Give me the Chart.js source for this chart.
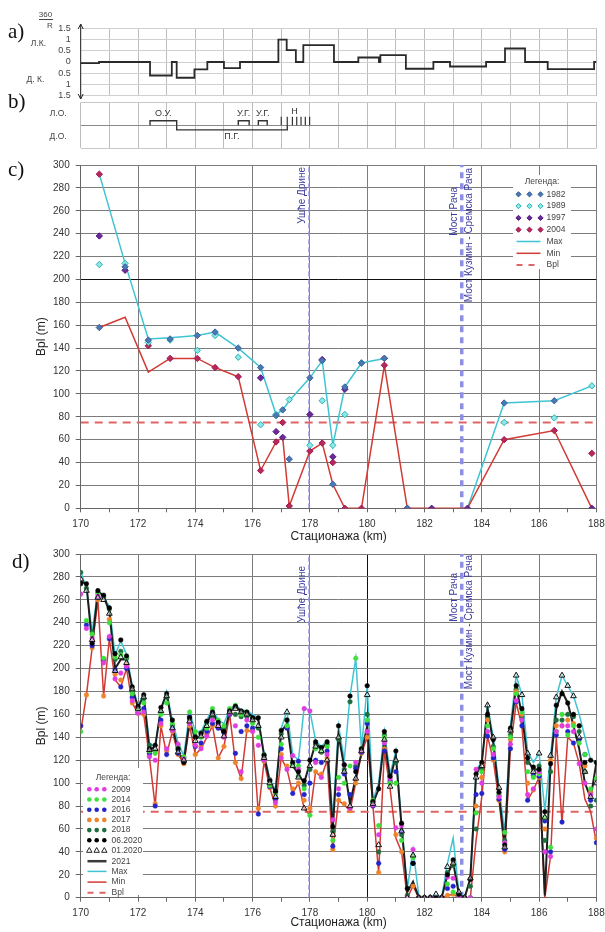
<!DOCTYPE html>
<html>
<head>
<meta charset="utf-8">
<script src="https://cdn.jsdelivr.net/npm/chart.js@4.4.1/dist/chart.umd.min.js"></script>
<style>
  html, body { margin: 0; padding: 0; background: #fff; }
  #wrap { position: relative; width: 605px; height: 932px; overflow: hidden; }
  canvas { position: absolute; left: 0; }
</style>
</head>
<body>
<div id="wrap">
  <canvas id="curv" width="605" height="100" style="top:0px"></canvas>
  <canvas id="banks" width="605" height="62" style="top:88px"></canvas>
  <canvas id="chartC" width="605" height="396" style="top:150px"></canvas>
  <canvas id="chartD" width="605" height="392" style="top:540px"></canvas>
</div>
<script>
// ---- a) кривина 360/R по стационажи (почетак деонице, вредност)
const curvKm  = [170.0, 170.64, 172.42, 173.18, 173.35, 173.97, 174.42, 175.0, 175.56, 176.9, 177.19, 177.51, 177.77, 178.84, 179.69, 180.41, 180.46, 181.35, 182.31, 182.89, 184.15, 184.81, 185.51, 186.3, 187.92, 188.0];
const curvVal = [-0.05, 0, -0.6, 0, -0.7, -0.33, 0, -0.27, 0, 1.0, 0.53, 0, 0.75, 0, 0.2, 0, 0.31, -0.3, 0, -0.2, 0, 0.6, 0, -0.32, 0, 0];

// ---- b) регулационе грађевине
const objName = ['О.У.', 'У.Г.', 'У.Г.', 'П.Г.'];
const objFrom = [172.42, 175.5, 176.2, 173.35];
const objTo   = [173.35, 175.88, 176.51, 177.21];
const objSide = [1, 1, 1, -1];           // 1 = лева обала, -1 = десна обала
const spurKm  = [177.0, 177.21, 177.39, 177.54, 177.69, 177.84, 177.99];
const spurName = 'Н';

// ---- c) ширина Bpl, мерења 1982-2004
const stC   = [170.65, 171.55, 172.36, 173.12, 174.07, 174.69, 175.5, 176.28, 176.82, 177.05, 177.28, 178.0, 178.43, 178.8, 179.22, 179.8, 180.6, 181.4, 182.25, 183.5, 184.78, 186.53, 187.84];
const maxC  = [292, 214, 148, 149, 151, 154, 140, 123, 82, 86, 94, 114, 129, 55, 106, 127, 131, null, null, 0, 92, 94, 107];
const minC  = [158, 167, 119, 131, 131, 123, 115, 33, 58, 62, 2, 50, 57, 21, 0, 0, 125, 0, 0, 0, 60, 68, 0];
const y1982 = [158, 211, 147, 148, 151, 154, 140, 123, 81, 86, 43, 114, 129, 21, 106, 127, 131, 0, null, null, 92, 94, null];
const y1989 = [213, 214, 145, 147, 138, 151, 132, 73, 82, null, 95, 55, 94, 55, 82, 127, null, null, null, null, 75, 79, 107];
const y1997 = [238, 208, null, null, null, null, null, 114, 67, 62, null, 82, 130, 45, 104, null, 131, null, 0, 0, null, null, 0];
const y2004 = [292, null, 142, 131, 131, 123, 115, 33, 58, 75, 2, 50, 57, 40, 0, 0, 125, 0, null, null, 60, 68, 48];

// ---- d) ширина Bpl, мерења 2009-2021
const stD = [170, 170.2, 170.4, 170.6, 170.8, 171, 171.2, 171.4, 171.6, 171.8,
  172, 172.2, 172.4, 172.6, 172.8, 173, 173.2, 173.4, 173.6, 173.8,
  174, 174.2, 174.4, 174.6, 174.8, 175, 175.2, 175.4, 175.6, 175.8,
  176, 176.2, 176.4, 176.6, 176.8, 177, 177.2, 177.4, 177.6, 177.8,
  178, 178.2, 178.4, 178.6, 178.8, 179, 179.2, 179.4, 179.6, 179.8,
  180, 180.2, 180.4, 180.6, 180.8, 181, 181.2, 181.4, 181.6, 181.8,
  182, 182.2, 182.4, 182.6, 182.8, 183, 183.2, 183.4, 183.6, 183.8,
  184, 184.2, 184.4, 184.6, 184.8, 185, 185.2, 185.4, 185.6, 185.8,
  186, 186.2, 186.4, 186.6, 186.8, 187, 187.2, 187.4, 187.6, 187.8, 188];
const maxD = [285, 270, 232, 268, 263, 254, 212, 224, 212, 185,
  168, 178, 135, 132, 165, 180, 155, 135, 124, 162,
  145, 145, 155, 165, 155, 152, 165, 168, 164, 163,
  160, 157, 126, 104, 94, 148, 163, 125, 120, 166,
  163, 137, 132, 137, 70, 150, 120, 176, 209, 130,
  185, 85, 100, 145, 108, 128, 65, 8, 42, 2,
  0, 0, 3, 0, 30, 52, 5, 0, 17, 112,
  118, 168, 140, 96, 57, 150, 194, 177, 128, 118,
  126, 76, 124, 175, 194, 185, 176, 160, 140, 120, 118];
const minD = [145, 177, 218, 260, 176, 226, 190, 184, 200, 170,
  161, 160, 122, 80, 150, 125, 145, 125, 117, 150,
  125, 130, 140, 150, 122, 132, 160, 118, 104, 146,
  145, 73, 119, 96, 80, 122, 112, 91, 100, 78,
  72, 110, 105, 120, 42, 85, 81, 76, 100, 126,
  140, 80, 22, 128, 95, 52, 40, 0, 10, 0,
  0, 0, 0, 0, 2, 3, 0, 0, 0, 50,
  88, 141, 120, 85, 40, 130, 170, 150, 85, 94,
  105, 0, 36, 140, 65, 140, 135, 117, 86, 75, 48];
const l2021 = [276, 274, 221, 268, 263, 250, 200, 208, 208, 183,
  166, 176, 129, 132, 165, 178, 150, 128, 119, 155,
  138, 142, 152, 162, 152, 142, 163, 167, 163, 162,
  158, 155, 124, 101, 92, 145, 152, 115, 108, 100,
  118, 135, 130, 135, 60, 142, 114, 82, 105, 126,
  150, 82, 95, 138, 103, 124, 62, 5, 14, 0,
  0, 0, 0, 0, 20, 31, 3, 0, 17, 107,
  118, 165, 135, 90, 45, 145, 184, 160, 120, 112,
  112, 2, 117, 165, 180, 170, 150, 130, 100, 87, 118];
const p0620 = [274, 274, 222, 268, 264, 253, 213, 225, 211, 184,
  167, 177, 130, 133, 166, 178, 155, 130, 118, 157,
  140, 143, 154, 162, 153, 145, 163, 167, 163, 162,
  157, 157, 124, 102, 93, 146, 155, 118, 110, 102,
  120, 136, 131, 136, 62, 150, 116, 176, 110, 130,
  185, 84, 95, 145, 106, 128, 65, 8, 30, 0,
  0, 0, 0, 0, 20, 33, 3, 0, 16, 108,
  118, 160, 138, 92, 46, 148, 185, 165, 122, 114,
  112, 75, 117, 168, 178, 170, 160, 150, 118, 120, 118];
const p0120 = [278, 268, 225, 262, 260, 248, 198, 210, 205, 182,
  165, 175, 129, 130, 163, 176, 148, 127, 120, 154,
  137, 141, 150, 160, 150, 141, 162, 165, 162, 160,
  155, 150, 122, 100, 88, 140, 162, 115, 105, 78,
  115, 132, 128, 120, 55, 140, 110, 80, 104, 128,
  177, 82, 46, 138, 97, 120, 58, 0, 37, 0,
  0, 0, 3, 0, 27, 30, 5, 0, 17, 105,
  115, 168, 140, 96, 44, 146, 194, 177, 126, 110,
  126, 70, 124, 175, 194, 185, 176, 140, 110, 88, 100];
const p2009 = [265, 235, 226, 263, 205, 228, 191, 196, 202, 172,
  161, 162, 123, 120, 152, 130, 146, 134, 121, 152,
  133, 130, 141, 155, 150, 140, 161, 150, 110, 155,
  145, 133, 120, 102, 83, 122, 112, 124, 112, 165,
  163, 118, 105, 125, 68, 95, 116, 78, 118, 128,
  145, 81, 55, 135, 104, 61, 63, 0, 42, 0,
  0, 0, 0, 0, 18, 17, 0, 0, 0, 112,
  100, 145, 125, 88, 48, 134, 172, 155, 90, 95,
  110, 40, 36, 145, 150, 150, 145, 117, 100, 90, 60];
const p2014 = [145, 242, 230, 265, 209, 240, 210, 212, 210, 178,
  163, 170, 128, 126, 160, 170, 152, 132, 123, 162,
  145, 140, 148, 165, 155, 150, 165, 168, 160, 162,
  152, 140, 122, 98, 90, 134, 150, 117, 115, 95,
  72, 130, 128, 132, 50, 105, 100, 115, 209, 130,
  155, 85, 63, 140, 100, 100, 50, 0, 35, 0,
  0, 0, 0, 0, 12, 5, 0, 0, 0, 74,
  110, 150, 130, 90, 57, 140, 178, 162, 110, 105,
  108, 70, 44, 145, 160, 142, 150, 135, 125, 95, 104];
const p2016 = [150, 238, 220, 262, 208, 226, 199, 184, 200, 175,
  162, 165, 126, 80, 155, 125, 147, 126, 119, 158,
  132, 135, 145, 152, 148, 144, 160, 126, 145, 150,
  148, 73, 121, 97, 86, 130, 148, 91, 119, 90,
  100, 120, 118, 128, 45, 90, 108, 90, 113, 127,
  152, 80, 30, 128, 102, 110, 58, 0, 30, 0,
  0, 0, 0, 0, 8, 10, 0, 0, 0, 90,
  91, 141, 122, 86, 42, 130, 171, 150, 85, 107,
  106, 67, 40, 142, 66, 145, 135, 138, 125, 85, 48];
const p2017 = [150, 177, 218, 260, 176, 243, 195, 190, 203, 170,
  161, 160, 124, 82, 150, 128, 145, 125, 117, 150,
  125, 132, 143, 150, 122, 132, 160, 118, 104, 146,
  146, 78, 119, 96, 80, 125, 115, 95, 100, 85,
  78, 110, 108, 122, 42, 85, 82, 76, 100, 126,
  140, 80, 22, 130, 101, 55, 40, 0, 10, 0,
  0, 0, 0, 0, 2, 3, 0, 0, 0, 80,
  105, 155, 120, 85, 40, 138, 180, 160, 100, 94,
  105, 60, 120, 150, 150, 155, 152, 150, 115, 92, 52];
const p2018 = [284, 270, 232, 266, 262, 252, 208, 215, 209, 180,
  166, 174, 133, 128, 162, 175, 150, 129, 122, 156,
  141, 144, 153, 158, 151, 148, 164, 160, 158, 158,
  156, 148, 125, 103, 92, 143, 155, 116, 106, 98,
  112, 134, 127, 134, 58, 138, 112, 171, 115, 129,
  160, 83, 40, 142, 100, 118, 55, 2, 36, 0,
  0, 0, 0, 0, 22, 28, 2, 0, 10, 60,
  112, 158, 132, 89, 50, 142, 182, 158, 118, 112,
  115, 50, 110, 155, 155, 160, 158, 145, 110, 80, 85];

const bpl = 75;
const mouthKm = 177.97;   // ушће Дрине
const bridgeKm = 183.3;   // мост Рача

// ---- стил
const SANS = '"Liberation Sans", Arial, sans-serif';
const SERIF = '"Liberation Serif", "Times New Roman", serif';
const AREA_LEFT = 80.7;
const PAD_RIGHT = 605 - 596.4;
const GRID = '#7c7c7c';
const TXT = '#333';
const CYAN = '#3fc4d4';
const RED = '#d23a34';
const LABEL_BLUE = '#3d3d9e';
Chart.defaults.font.family = SANS;

function noPad(s) { s.paddingLeft = 0; s.paddingRight = 0; s.paddingTop = 0; s.paddingBottom = 0; }

function pts(xs, ys) { return xs.map((x, i) => ({ x: x, y: ys[i] })); }

function vText(ctx, text, x, yTop) {
  ctx.save();
  ctx.translate(x, yTop);
  ctx.rotate(-Math.PI / 2);
  ctx.textAlign = 'right';
  ctx.textBaseline = 'middle';
  ctx.fillText(text, 0, 0);
  ctx.restore();
}

function diamond(ctx, x, y, r, fill, stroke) {
  ctx.beginPath();
  ctx.moveTo(x, y - r); ctx.lineTo(x + r, y); ctx.lineTo(x, y + r); ctx.lineTo(x - r, y);
  ctx.closePath();
  ctx.fillStyle = fill; ctx.fill();
  ctx.lineWidth = 1; ctx.strokeStyle = stroke; ctx.stroke();
}
function dot(ctx, x, y, r, fill) {
  ctx.beginPath(); ctx.arc(x, y, r, 0, Math.PI * 2); ctx.fillStyle = fill; ctx.fill();
}
function tri(ctx, x, y, r, stroke) {
  ctx.beginPath();
  ctx.moveTo(x, y - r); ctx.lineTo(x + r * 0.9, y + r * 0.6); ctx.lineTo(x - r * 0.9, y + r * 0.6);
  ctx.closePath();
  ctx.lineWidth = 1; ctx.strokeStyle = stroke; ctx.stroke();
}

function drawLegend(ctx, L) {
  ctx.save();
  ctx.fillStyle = '#fff';
  ctx.fillRect(L.box[0], L.box[1], L.box[2], L.box[3]);
  ctx.font = L.fs + 'px ' + SANS;
  ctx.textBaseline = 'middle';
  ctx.fillStyle = '#444';
  ctx.textAlign = 'center';
  ctx.fillText('Легенда:', L.box[0] + L.box[2] / 2, L.titleY);
  ctx.textAlign = 'left';
  L.rows.forEach((r, i) => {
    const y = L.y0 + i * L.dy + (r.shift || 0);
    if (r.mark) {
      L.markX.forEach(x => r.mark(ctx, x, y));
    } else {
      ctx.beginPath();
      ctx.setLineDash(r.dash || []);
      ctx.strokeStyle = r.color; ctx.lineWidth = r.width;
      ctx.moveTo(L.lineX[0], y); ctx.lineTo(L.lineX[1], y); ctx.stroke();
      ctx.setLineDash([]);
    }
    ctx.fillStyle = '#444';
    ctx.fillText(r.label, L.textX, y);
  });
  ctx.restore();
}

function kmAxis(height, labels, title, blackAt) {
  return {
    type: 'linear', min: 170, max: 188,
    ticks: {
      display: labels, stepSize: 1, autoSkip: false, maxRotation: 0, padding: 6,
      font: { size: 10 }, color: TXT,
      callback: v => (v % 2 === 0 ? String(v) : '')
    },
    grid: labels ? {
      color: c => (c.tick && c.tick.value % 2 !== 0) ? 'rgba(0,0,0,0)' : (c.tick && c.tick.value === blackAt ? '#111' : GRID),
      tickColor: '#666', tickLength: 4
    } : { color: '#bdbdbd', drawTicks: false },
    border: labels ? { color: '#666' } : { display: false },
    title: title ? { display: true, text: title, color: '#222', font: { size: 12 }, padding: { top: 0, bottom: 1.8 } } : { display: false },
    afterFit: s => { noPad(s); s.height = height; }
  };
}

function bplAxis(blackAt) {
  return {
    min: 0, max: 300,
    ticks: { stepSize: 20, autoSkip: false, padding: 6, font: { size: 10 }, color: TXT },
    grid: { color: c => (c.tick && c.tick.value === blackAt ? '#111' : GRID), tickColor: '#666', tickLength: 5 },
    border: { color: '#666' },
    title: { display: true, text: 'Bpl (m)', color: '#222', font: { size: 12 }, padding: { top: 34.5, bottom: 0 } },
    afterFit: s => { noPad(s); s.width = AREA_LEFT; }
  };
}

const base = {
  responsive: false, animation: false, devicePixelRatio: 1,
  plugins: { legend: { display: false }, tooltip: { enabled: false } }
};

// ================= a)
const curvDecor = {
  id: 'curvDecor',
  afterDraw(chart) {
    const ctx = chart.ctx, a = chart.chartArea;
    ctx.save();
    ctx.strokeStyle = '#222'; ctx.lineWidth = 1;
    ctx.beginPath(); ctx.moveTo(a.left, 24.5); ctx.lineTo(a.left, 98.5); ctx.stroke();
    ctx.beginPath(); ctx.moveTo(a.left - 2.5, 29); ctx.lineTo(a.left, 24); ctx.lineTo(a.left + 2.5, 29); ctx.stroke();
    ctx.beginPath(); ctx.moveTo(a.left - 2.5, 94); ctx.lineTo(a.left, 99); ctx.lineTo(a.left + 2.5, 94); ctx.stroke();
    ctx.fillStyle = '#111'; ctx.font = '21px ' + SERIF; ctx.textBaseline = 'middle'; ctx.textAlign = 'left';
    ctx.fillText('a)', 8, 32);
    ctx.fillStyle = '#444'; ctx.font = '8px ' + SANS; ctx.textAlign = 'center';
    ctx.fillText('360', 45.5, 14.5);
    ctx.beginPath(); ctx.moveTo(39, 19.5); ctx.lineTo(53, 19.5); ctx.strokeStyle = '#444'; ctx.stroke();
    ctx.fillText('R', 50, 25.5);
    ctx.font = '8.5px ' + SANS;
    ctx.fillText('Л.К.', 38.5, 43.5);
    ctx.fillText('Д. К.', 35.5, 80);
    ctx.restore();
  }
};
new Chart(document.getElementById('curv'), {
  type: 'line',
  data: { datasets: [{ data: pts(curvKm, curvVal), stepped: 'before', borderColor: '#2a2a2a', borderWidth: 1.8, pointRadius: 0 }] },
  options: Object.assign({}, base, {
    layout: { padding: { left: 0, right: PAD_RIGHT, top: 28.3, bottom: 0 } },
    scales: {
      x: kmAxis(4.3, false, null, null),
      y: {
        min: -1.5, max: 1.5,
        ticks: { stepSize: 0.5, autoSkip: false, padding: 10, font: { size: 9 }, color: '#444', callback: v => String(Math.abs(v)) },
        grid: { color: '#d0d0d0', drawTicks: false },
        border: { display: false },
        afterFit: s => { noPad(s); s.width = AREA_LEFT; }
      }
    }
  }),
  plugins: [curvDecor]
});

// ================= b)
const bankSets = objName.map((n, i) => ({
  data: [{ x: objFrom[i], y: 0 }, { x: objFrom[i], y: 0.2 * objSide[i] }, { x: objTo[i], y: 0.2 * objSide[i] }, { x: objTo[i], y: 0 }],
  borderColor: '#333', borderWidth: 1.4, pointRadius: 0
})).concat(spurKm.map(k => ({
  data: [{ x: k, y: 0 }, { x: k, y: 0.37 }],
  borderColor: '#333', borderWidth: 1.2, pointRadius: 0
})));
const bankDecor = {
  id: 'bankDecor',
  afterDraw(chart) {
    const ctx = chart.ctx, xs = chart.scales.x, ys = chart.scales.y;
    ctx.save();
    ctx.fillStyle = '#111'; ctx.font = '21px ' + SERIF; ctx.textBaseline = 'middle'; ctx.textAlign = 'left';
    ctx.fillText('b)', 8, 14);
    ctx.fillStyle = '#333'; ctx.font = '9px ' + SANS; ctx.textAlign = 'center';
    objName.forEach((n, i) => {
      ctx.fillText(n, xs.getPixelForValue((objFrom[i] + objTo[i]) / 2), ys.getPixelForValue(objSide[i] > 0 ? 0.52 : -0.5));
    });
    ctx.fillText(spurName, xs.getPixelForValue((spurKm[2] + spurKm[3]) / 2), ys.getPixelForValue(0.6));
    ctx.restore();
  }
};
new Chart(document.getElementById('banks'), {
  type: 'line',
  data: { datasets: bankSets },
  options: Object.assign({}, base, {
    layout: { padding: { left: 0, right: PAD_RIGHT, top: 14.3, bottom: 0 } },
    scales: {
      x: kmAxis(1.7, false, null, null),
      y: {
        min: -1, max: 1,
        afterBuildTicks: s => { s.ticks = [-1, -0.5, 0, 0.5, 1].map(v => ({ value: v })); },
        ticks: { autoSkip: false, padding: 14, font: { size: 8.5 }, color: '#444', callback: v => (v === 0.5 ? 'Л.О.' : v === -0.5 ? 'Д.О.' : '') },
        grid: { color: c => (c.tick.value === 0 ? '#8a8a8a' : Math.abs(c.tick.value) === 0.5 ? 'rgba(0,0,0,0)' : '#c8c8c8'), drawTicks: false },
        border: { display: false },
        afterFit: s => { noPad(s); s.width = AREA_LEFT; }
      }
    }
  }),
  plugins: [bankDecor]
});

// ================= c)
const col82 = ['#4a78b0', '#3a62a0'], col89 = ['#8ee6e6', '#27b4b4'], col97 = ['#6a2a98', '#561a86'], col04 = ['#b8285c', '#9e1850'];
function yearSet(label, arr, c) {
  return { label: label, data: arr, showLine: false, pointStyle: 'rectRot', pointRadius: 3.2,
    pointBackgroundColor: c[0], pointBorderColor: c[1], pointBorderWidth: 1 };
}
function vLine(km, w, dash) {
  return { data: [{ x: km, y: 0 }, { x: km, y: 300 }], borderColor: '#8e8ee4', borderWidth: w, borderDash: dash, pointRadius: 0 };
}
function bplLine() {
  return { data: [{ x: 170, y: bpl }, { x: 188, y: bpl }], borderColor: '#e06464', borderWidth: 2, borderDash: [8, 6], pointRadius: 0 };
}
function vLabels(ctx, xs, tops) {
  ctx.save();
  ctx.fillStyle = LABEL_BLUE; ctx.font = '10px ' + SANS;
  vText(ctx, 'Ушће Дрине', xs.getPixelForValue(mouthKm) - 7, tops[0]);
  vText(ctx, 'Мост Рача', xs.getPixelForValue(bridgeKm) - 7, tops[1]);
  vText(ctx, 'Мост Кузмин - Сремска Рача', xs.getPixelForValue(bridgeKm) + 7.5, tops[2]);
  ctx.restore();
}
const decorC = {
  id: 'decorC',
  afterDraw(chart) {
    const ctx = chart.ctx;
    vLabels(ctx, chart.scales.x, [17, 37, 18]);
    ctx.save();
    ctx.fillStyle = '#111'; ctx.font = '21px ' + SERIF; ctx.textBaseline = 'middle'; ctx.textAlign = 'left';
    ctx.fillText('c)', 8, 20);
    ctx.restore();
    drawLegend(ctx, {
      box: [513, 25, 58, 94], fs: 8.5, titleY: 32, y0: 44.3, dy: 11.8,
      markX: [518.5, 529.5, 540.5], lineX: [516.5, 540.5], textX: 546.5,
      rows: [
        { label: '1982', mark: (c, x, y) => diamond(c, x, y, 2.6, col82[0], col82[1]) },
        { label: '1989', mark: (c, x, y) => diamond(c, x, y, 2.6, col89[0], col89[1]) },
        { label: '1997', mark: (c, x, y) => diamond(c, x, y, 2.6, col97[0], col97[1]) },
        { label: '2004', mark: (c, x, y) => diamond(c, x, y, 2.6, col04[0], col04[1]) },
        { label: 'Max', color: CYAN, width: 1.5 },
        { label: 'Min', color: RED, width: 1.5 },
        { label: 'Bpl', color: '#e06464', width: 2, dash: [6, 6] }
      ]
    });
  }
};
new Chart(document.getElementById('chartC'), {
  type: 'line',
  data: {
    labels: stC,
    datasets: [
      yearSet('1982', y1982, col82),
      yearSet('1989', y1989, col89),
      yearSet('1997', y1997, col97),
      yearSet('2004', y2004, col04),
      { label: 'Min', data: minC, borderColor: RED, borderWidth: 1.5, pointRadius: 0 },
      { label: 'Max', data: maxC, borderColor: CYAN, borderWidth: 1.5, pointRadius: 0 },
      bplLine(),
      vLine(mouthKm, 1.5, [5, 3]),
      vLine(bridgeKm, 3.5, [6, 5])
    ]
  },
  options: Object.assign({}, base, {
    layout: { padding: { left: 0, right: PAD_RIGHT, top: 15, bottom: 0 } },
    scales: { x: kmAxis(37.7, true, 'Стационажа (km)', null), y: bplAxis(200) }
  }),
  plugins: [decorC]
});

// ================= d)
function dotSet(label, arr, color) {
  return { label: label, data: arr, showLine: false, pointStyle: 'circle', pointRadius: 2.3,
    pointBackgroundColor: color, pointBorderColor: color, pointBorderWidth: 0.5 };
}
const cols = { y09: '#e03ce0', y14: '#3ee03e', y16: '#2424cc', y17: '#f0842a', y18: '#1d6e3c', y0620: '#000' };
const decorD = {
  id: 'decorD',
  afterDraw(chart) {
    const ctx = chart.ctx;
    vLabels(ctx, chart.scales.x, [26, 33, 15]);
    ctx.save();
    ctx.fillStyle = '#111'; ctx.font = '21px ' + SERIF; ctx.textBaseline = 'middle'; ctx.textAlign = 'left';
    ctx.fillText('d)', 12, 22);
    ctx.restore();
    const dm = c => (ctx2, x, y) => dot(ctx2, x, y, 2.3, c);
    drawLegend(ctx, {
      box: [83, 228, 60, 127], fs: 8.5, titleY: 237.5, y0: 249.3, dy: 10.2,
      markX: [89.3, 96.7, 104.3], lineX: [87.5, 106.5], textX: 111.5,
      rows: [
        { label: '2009', mark: dm(cols.y09) },
        { label: '2014', mark: dm(cols.y14) },
        { label: '2016', mark: dm(cols.y16) },
        { label: '2017', mark: dm(cols.y17) },
        { label: '2018', mark: dm(cols.y18) },
        { label: '06.2020', mark: dm(cols.y0620) },
        { label: '01.2020', mark: (c, x, y) => tri(c, x, y, 3, '#222') },
        { label: '2021', color: '#3a3a3a', width: 2.5, shift: 0.5 },
        { label: 'Max', color: CYAN, width: 1.5, shift: 0.5 },
        { label: 'Min', color: RED, width: 1.5, shift: 1 },
        { label: 'Bpl', color: '#e06464', width: 2, dash: [6, 6], shift: 1.5 }
      ]
    });
  }
};
new Chart(document.getElementById('chartD'), {
  type: 'line',
  data: {
    labels: stD,
    datasets: [
      { label: '01.2020', data: p0120, showLine: false, pointStyle: 'triangle', pointRadius: 3.3,
        pointBackgroundColor: 'rgba(255,255,255,0.5)', pointBorderColor: '#111', pointBorderWidth: 1 },
      dotSet('06.2020', p0620, cols.y0620),
      dotSet('2009', p2009, cols.y09),
      dotSet('2014', p2014, cols.y14),
      dotSet('2016', p2016, cols.y16),
      dotSet('2017', p2017, cols.y17),
      dotSet('2018', p2018, cols.y18),
      { label: '2021', data: l2021, borderColor: '#1e1e1e', borderWidth: 2, pointRadius: 0 },
      { label: 'Min', data: minD, borderColor: RED, borderWidth: 1.5, pointRadius: 0 },
      { label: 'Max', data: maxD, borderColor: CYAN, borderWidth: 1.5, pointRadius: 0 },
      bplLine(),
      vLine(mouthKm, 1.5, [5, 3]),
      vLine(bridgeKm, 3.5, [6, 5])
    ]
  },
  options: Object.assign({}, base, {
    layout: { padding: { left: 0, right: PAD_RIGHT, top: 14, bottom: 0 } },
    scales: { x: kmAxis(34.3, true, 'Стационажа (km)', 180), y: bplAxis(null) }
  }),
  plugins: [decorD]
});
</script>
</body>
</html>
